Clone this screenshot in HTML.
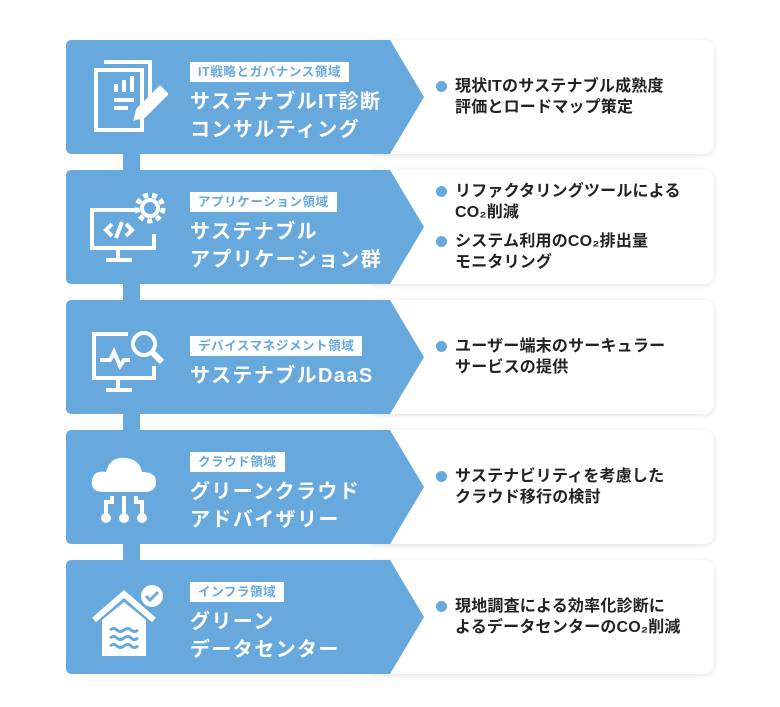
<!DOCTYPE html>
<html><head><meta charset="utf-8"><style>
body{margin:0;width:780px;height:707px;background:#fff;position:relative;font-family:"Liberation Sans","Noto Sans CJK JP",sans-serif;overflow:hidden}
.conn{position:absolute;left:123px;width:17px;background:#68a9dd}
.row{position:absolute;left:66px;width:648px;height:114px}
.card{position:absolute;left:300px;top:0;width:348px;height:114px;background:#fff;border-radius:10px;box-shadow:0 1px 6px rgba(0,0,0,0.13)}
.blue{position:absolute;left:0;top:0;width:360px;height:114px}
.txt{position:absolute;left:124px;top:6px;height:114px;display:flex;flex-direction:column;justify-content:center}
.lab{display:inline-block;align-self:flex-start;background:#fff;color:#68a9dd;font-size:12.5px;font-weight:bold;padding:1px 8px;line-height:18px;letter-spacing:0.6px}
.ttl{color:#fff;font-size:20px;font-weight:bold;line-height:28px;margin-top:6px;letter-spacing:1.4px}
.bul{position:absolute;left:370px;display:flex;flex-direction:column;justify-content:center;height:114px;top:0}
.b{position:relative;padding-left:19px;font-size:16px;font-weight:bold;line-height:21px;color:#222;margin:4px 0;letter-spacing:0.2px}
.b:before{content:"";position:absolute;left:0;top:5px;width:11px;height:11px;border-radius:50%;background:#68a9dd}
.ic{position:absolute;left:22px;top:20px}
</style></head><body>
<div class="conn" style="top:140px;height:440px"></div>

<div class="row" style="top:40px">
<div class="card"></div>
<svg class="blue" viewBox="0 0 360 114"><path d="M6 0H324L358 57L324 114H6Q0 114 0 108V6Q0 0 6 0Z" fill="#68a9dd"/></svg>
<svg class="ic" width="80" height="80" viewBox="0 0 80 80" fill="none" stroke="#fff" stroke-width="4"><rect x="8" y="10" width="46" height="60"/><path d="M16 2H62V42" /><path d="M28 24v8M36 20v12M44 16v16M26 40h20M26 48h14" /><path d="M50 50L72 28L78 34L56 56L48 58Z" fill="#fff"/></svg>
<div class="txt"><span class="lab">IT戦略とガバナンス領域</span><div class="ttl">サステナブルIT診断<br>コンサルティング</div></div>
<div class="bul"><div class="b">現状ITのサステナブル成熟度<br>評価とロードマップ策定</div></div>
</div>

<div class="row" style="top:170px">
<div class="card"></div>
<svg class="blue" viewBox="0 0 360 114"><path d="M6 0H324L358 57L324 114H6Q0 114 0 108V6Q0 0 6 0Z" fill="#68a9dd"/></svg>
<svg class="ic" width="80" height="80" viewBox="0 0 80 80" fill="none" stroke="#fff" stroke-width="4"><path d="M50 20H4V58H66V44"/><path d="M30 58v10M18 70h26"/><path d="M24 34l-6 6 6 6M38 34l6 6-6 6M34 32l-6 16"/><circle cx="62" cy="18" r="8"/><circle cx="62" cy="18" r="13" stroke-dasharray="5 4" stroke-width="5"/></svg>
<div class="txt"><span class="lab">アプリケーション領域</span><div class="ttl">サステナブル<br>アプリケーション群</div></div>
<div class="bul"><div class="b">リファクタリングツールによる<br>CO₂削減</div><div class="b">システム利用のCO₂排出量<br>モニタリング</div></div>
</div>

<div class="row" style="top:300px">
<div class="card"></div>
<svg class="blue" viewBox="0 0 360 114"><path d="M6 0H324L358 57L324 114H6Q0 114 0 108V6Q0 0 6 0Z" fill="#68a9dd"/></svg>
<svg class="ic" width="80" height="80" viewBox="0 0 80 80" fill="none" stroke="#fff" stroke-width="4"><path d="M40 14H6V58H66V46"/><path d="M30 58v10M18 70h26"/><path d="M12 40h10l4-8 6 14 4-6h6"/><circle cx="56" cy="24" r="11"/><path d="M64 32l10 10" stroke-width="6"/></svg>
<div class="txt"><span class="lab">デバイスマネジメント領域</span><div class="ttl">サステナブルDaaS</div></div>
<div class="bul"><div class="b">ユーザー端末のサーキュラー<br>サービスの提供</div></div>
</div>

<div class="row" style="top:430px">
<div class="card"></div>
<svg class="blue" viewBox="0 0 360 114"><path d="M6 0H324L358 57L324 114H6Q0 114 0 108V6Q0 0 6 0Z" fill="#68a9dd"/></svg>
<svg class="ic" width="80" height="80" viewBox="0 0 80 80"><path d="M16 42Q2 42 4 30Q6 20 18 22Q22 6 38 8Q52 10 54 22Q68 22 68 32Q68 42 56 42Z" fill="#fff"/><g fill="none" stroke="#fff" stroke-width="4"><path d="M24 46v6h-6v12M36 46v18M48 46v6h6v12"/></g><g fill="#fff"><circle cx="18" cy="68" r="5"/><circle cx="36" cy="68" r="5"/><circle cx="54" cy="68" r="5"/></g></svg>
<div class="txt"><span class="lab">クラウド領域</span><div class="ttl">グリーンクラウド<br>アドバイザリー</div></div>
<div class="bul"><div class="b">サステナビリティを考慮した<br>クラウド移行の検討</div></div>
</div>

<div class="row" style="top:560px">
<div class="card"></div>
<svg class="blue" viewBox="0 0 360 114"><path d="M6 0H324L358 57L324 114H6Q0 114 0 108V6Q0 0 6 0Z" fill="#68a9dd"/></svg>
<svg class="ic" width="80" height="80" viewBox="0 0 80 80"><path d="M6 40L36 14L66 40" fill="none" stroke="#fff" stroke-width="6"/><path d="M14 40L36 22L58 40V76H14Z" fill="#fff"/><circle cx="64" cy="16" r="11" fill="#fff"/><path d="M58 16l4 4 8-8" fill="none" stroke="#68a9dd" stroke-width="3"/><g fill="none" stroke="#68a9dd" stroke-width="3"><path d="M22 50q4-3 7 0t7 0 7 0 7 0M22 58q4-3 7 0t7 0 7 0 7 0M22 66q4-3 7 0t7 0 7 0 7 0"/></g></svg>
<div class="txt"><span class="lab">インフラ領域</span><div class="ttl">グリーン<br>データセンター</div></div>
<div class="bul"><div class="b">現地調査による効率化診断に<br>よるデータセンターのCO₂削減</div></div>
</div>
</body></html>
